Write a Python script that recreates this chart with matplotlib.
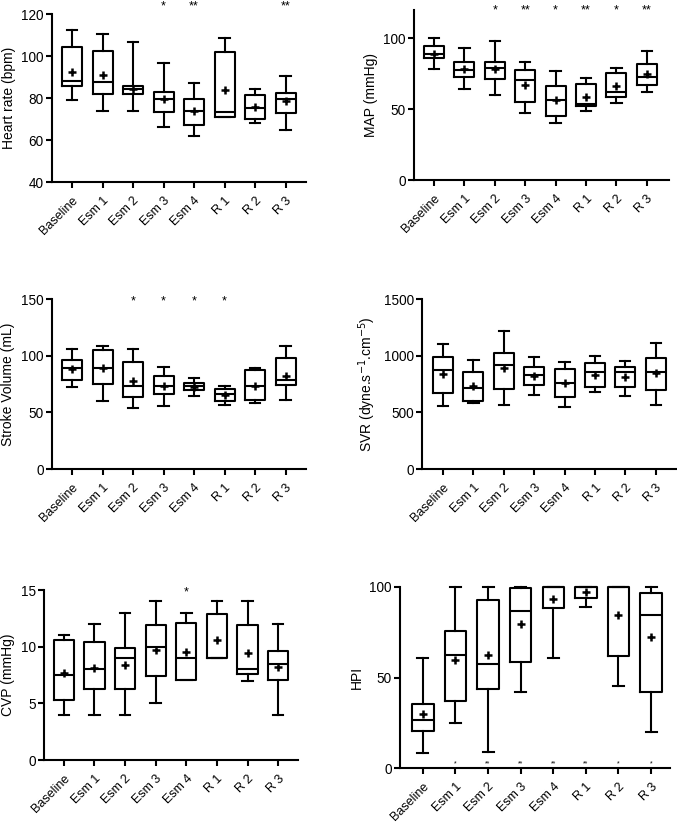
import matplotlib.pyplot as plt

plt.rcParams['font.family'] = ['Liberation Sans', 'DejaVu Sans']

categories = ['Baseline', 'Esm 1', 'Esm 2', 'Esm 3', 'Esm 4', 'R 1', 'R 2', 'R 3']

# box stats: whisker low, q1, median, q3, whisker high, mean
hr_lo = [79, 74, 74, 66, 62, 70.8, 68, 65]
hr_q1 = [85.7, 82, 81.7, 73.3, 67, 70.8, 70.2, 72.7]
hr_med = [88, 87.8, 84.4, 79.7, 74, 73.5, 75.2, 79.7]
hr_q3 = [104.3, 102.4, 85.7, 83, 79.4, 101.9, 81.6, 82.5]
hr_hi = [112.5, 110.6, 106.5, 96.5, 87.3, 108.6, 84.3, 90.3]
hr_mean = [92.3, 90.8, 84.5, 79.4, 73.8, 83.7, 75.6, 78.4]
hr_sig = ['', '', '', '*', '**', '', '', '**']

map_lo = [78, 64, 60, 47, 40, 49, 54, 62]
map_q1 = [86, 72.8, 71.1, 54.9, 45.5, 52.1, 58.7, 67.1]
map_med = [89.2, 77.9, 79.1, 70.4, 56.3, 53.5, 62.2, 73]
map_q3 = [94.4, 83.3, 83.1, 77.9, 66.2, 67.6, 75.6, 81.7]
map_hi = [100, 93, 98, 83, 77, 71.8, 78.9, 90.8]
map_mean = [89, 78, 78, 67.4, 56.8, 58.7, 66.2, 74.6]
map_sig = ['', '', '*', '**', '*', '**', '*', '**']

sv_lo = [72, 60.3, 54.1, 55.9, 64.1, 56.2, 58.2, 61.2]
sv_q1 = [78.5, 75.3, 63.8, 66.2, 69.4, 60.3, 61.2, 74.1]
sv_med = [89.1, 88.8, 73.2, 72.9, 73.2, 65.9, 73.2, 78.5]
sv_q3 = [95.9, 105, 94.1, 82, 75.6, 70.9, 87.1, 97.9]
sv_hi = [105.9, 108.8, 105.9, 89.7, 80.3, 72.9, 89.1, 108.8]
sv_mean = [88.2, 88.8, 77.6, 73.5, 72.6, 65.6, 73.2, 82.4]
sv_sig = ['', '', '*', '*', '*', '*', '', '']

svr_lo = [553, 582, 568, 656, 547, 682, 644, 568]
svr_q1 = [671, 597, 706, 738, 638, 726, 726, 697]
svr_med = [876, 712, 915, 829, 759, 853, 853, 853]
svr_q3 = [985, 853, 1021, 897, 885, 932, 897, 976]
svr_hi = [1106, 965, 1221, 988, 944, 994, 953, 1109]
svr_mean = [838, 729, 888, 818, 759, 832, 815, 847]

cvp_lo = [4, 4, 4, 5, 7.1, 9, 7, 4]
cvp_q1 = [5.3, 6.3, 6.3, 7.4, 7.1, 9, 7.6, 7.1]
cvp_med = [7.5, 8, 9, 10, 9, 9, 8, 8.5]
cvp_q3 = [10.6, 10.4, 9.9, 11.9, 12.1, 12.9, 11.9, 9.6]
cvp_hi = [11, 12, 13, 14, 13, 14, 14, 12]
cvp_mean = [7.7, 8.1, 8.4, 9.7, 9.5, 10.6, 9.4, 8.2]
cvp_sig = ['', '', '', '', '*', '', '', '']

hpi_lo = [8.1, 25.1, 9, 42.1, 61, 89.1, 45.2, 19.9]
hpi_q1 = [20.5, 36.9, 43.5, 58.3, 88.6, 93.7, 62, 41.9]
hpi_med = [26.6, 62.7, 57.6, 86.9, 100, 100, 100, 84.7]
hpi_q3 = [35.6, 75.6, 93, 99.4, 100, 100, 100, 96.7]
hpi_hi = [61, 100, 100, 100, 100, 100, 100, 100]
hpi_mean = [29.7, 59.8, 62.7, 79.5, 93.2, 97.2, 84.7, 72.1]
hpi_sig = ['', '*', '**', '**', '**', '**', '*', '*']

W, H = 677, 822
fig = plt.figure(figsize=(W / 100, H / 100), dpi=100)


def panel(px, lo, q1, med, q3, hi, mean, ylabel, ylim, yticks, xlim,
          sig=None, sig_y=None, sig_size=9):
    left, right, top, bottom = px
    ax = fig.add_axes([left / W, 1 - bottom / H, (right - left) / W, (bottom - top) / H])
    stats = []
    for i in range(len(categories)):
        stats.append(dict(whislo=lo[i], q1=q1[i], med=med[i], q3=q3[i],
                          whishi=hi[i], mean=mean[i], fliers=[]))
    lw = 1.5
    parts = ax.bxp(stats, positions=range(len(categories)), widths=0.66, capwidths=0.34,
                   showmeans=True, showfliers=False,
                   boxprops=dict(color='black', linewidth=lw),
                   whiskerprops=dict(color='black', linewidth=lw),
                   capprops=dict(color='black', linewidth=lw),
                   medianprops=dict(color='black', linewidth=lw),
                   meanprops=dict(marker='+', markersize=6, markeredgewidth=1.8,
                                  markeredgecolor='black', color='black'))
    for arts in parts.values():
        for a in arts:
            a.set_clip_on(False)
    ax.set_xlim(*xlim)
    ax.set_ylim(*ylim)
    ax.set_yticks(yticks)
    ax.set_xticks(range(len(categories)))
    ax.set_xticklabels(categories, rotation=45, ha='right', rotation_mode='anchor',
                       fontsize=9)
    ax.set_ylabel(ylabel, fontsize=10)
    for s in ['top', 'right']:
        ax.spines[s].set_visible(False)
    for s in ['left', 'bottom']:
        ax.spines[s].set_linewidth(1.5)
    ax.tick_params(direction='out', length=4, width=1.5, pad=2)
    ax.tick_params(axis='y', labelsize=9.8)
    ax.tick_params(axis='x', pad=5)
    if sig is not None:
        for i, s in enumerate(sig):
            if s:
                ax.text(i, sig_y, s, ha='center', va='center', fontsize=sig_size,
                        clip_on=False)
    return ax


panel((52, 306, 14, 182), hr_lo, hr_q1, hr_med, hr_q3, hr_hi, hr_mean,
      'Heart rate (bpm)', (40, 120), [40, 60, 80, 100, 120], (-0.66, 7.67),
      hr_sig, 123.5)

panel((414, 669, 10, 180), map_lo, map_q1, map_med, map_q3, map_hi, map_mean,
      'MAP (mmHg)', (0, 120), [0, 50, 100], (-0.66, 7.73),
      map_sig, 120)

panel((52, 306, 299, 469), sv_lo, sv_q1, sv_med, sv_q3, sv_hi, sv_mean,
      'Stroke Volume (mL)', (0, 150), [0, 50, 100, 150], (-0.66, 7.67),
      sv_sig, 148)

panel((422, 677, 299, 469), svr_lo, svr_q1, svr_med, svr_q3, svr_hi, svr_mean,
      'SVR (dyne.s$^{-1}$.cm$^{-5}$)', (0, 1500), [0, 500, 1000, 1500], (-0.69, 7.7))

panel((44, 298, 590, 760), cvp_lo, cvp_q1, cvp_med, cvp_q3, cvp_hi, cvp_mean,
      'CVP (mmHg)', (0, 15), [0, 5, 10, 15], (-0.65, 7.65),
      cvp_sig, 14.8)

panel((400, 670, 587, 768), hpi_lo, hpi_q1, hpi_med, hpi_q3, hpi_hi, hpi_mean,
      'HPI', (0, 100), [0, 50, 100], (-0.7, 7.58),
      hpi_sig, 2.5, sig_size=5)

fig.savefig('out.png', dpi=100)
